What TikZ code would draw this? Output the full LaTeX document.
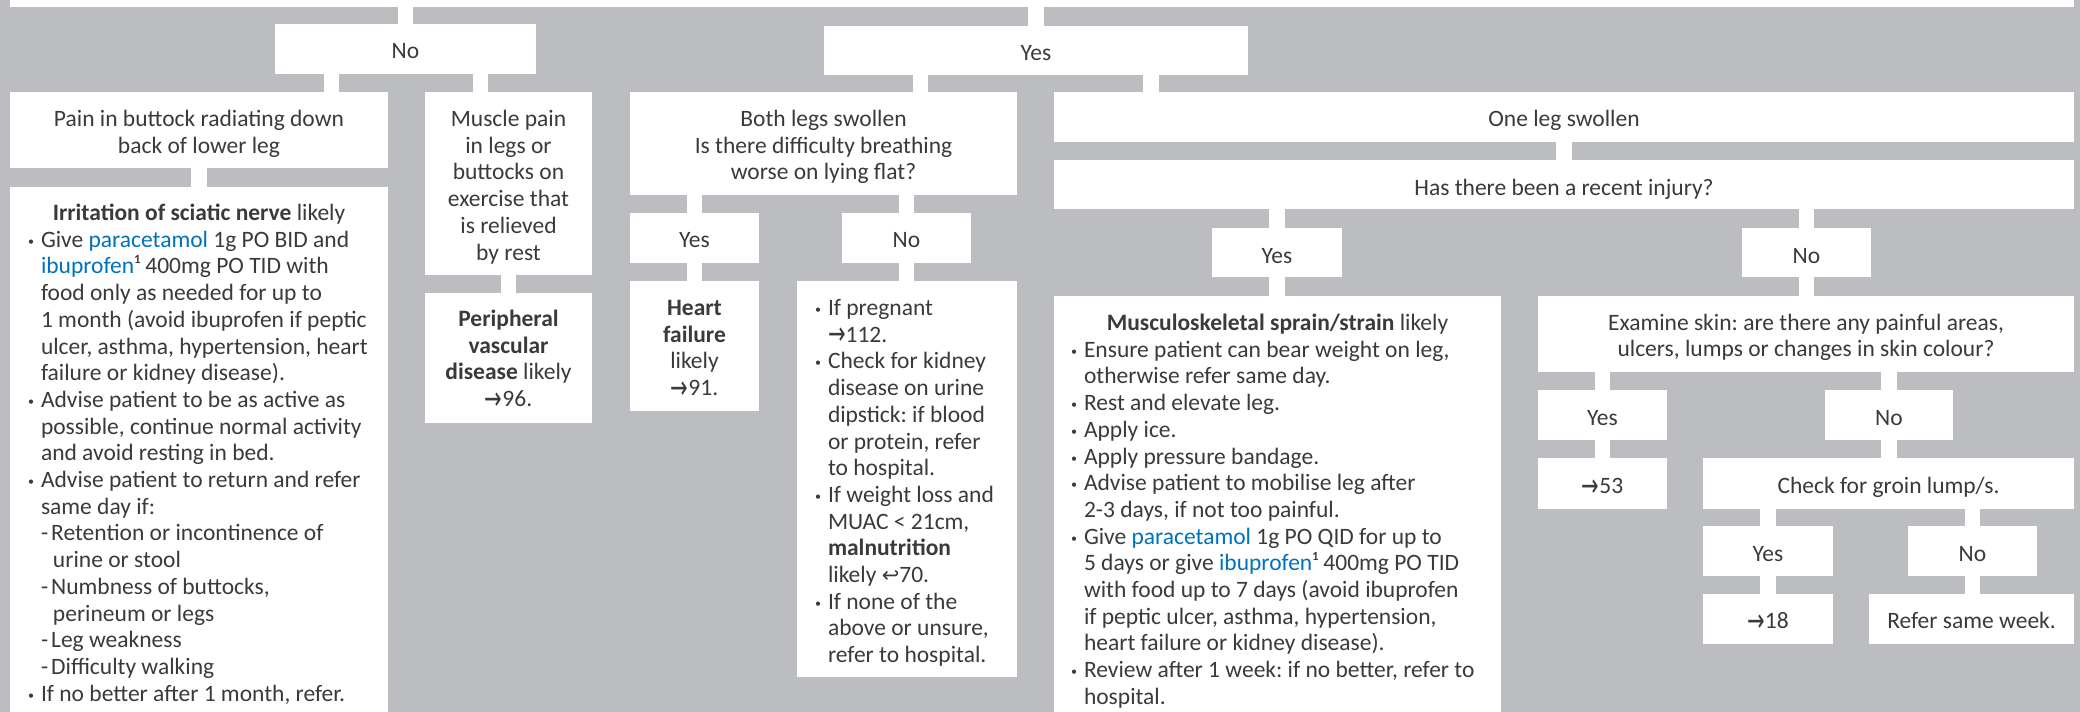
\documentclass[tikz,border=0pt]{standalone}
\usepackage{fontspec}
\usepackage{graphicx}
\setmainfont{Carlito}
\newfontfamily\symfont{DejaVu Sans}
\usetikzlibrary{calc}
\frenchspacing
\definecolor{bg}{RGB}{188,189,193}
\definecolor{txt}{RGB}{58,58,58}
\definecolor{drugc}{RGB}{0,114,188}
\newcommand\drug[1]{\textcolor{drugc}{#1}}
\newcommand\ar{{\symfont\fontsize{21}{21}\selectfont\raisebox{-2.5pt}{\scalebox{1}[1.5]{→}}}}
\newcommand\hook{{\symfont\fontsize{21}{21}\selectfont ↩}}
\newcommand\Bu{\leavevmode\llap{\raisebox{2pt}{\fontsize{12}{12}\selectfont •}\hspace{7pt}}}
\newcommand\Sb{\hspace*{12pt}}
\newcommand\Hd[3]{\hspace*{-#2pt}\makebox[#1pt][c]{#3}}
\newcommand\CC{\centering\leftskip=-80pt plus 1fil\rightskip=-80pt plus 1fil\parindent=0pt\parfillskip=0pt\parskip=0pt}
\newcommand\LL[1]{\raggedright\leftskip=#1pt\rightskip=-80pt plus 1fil\parindent=0pt\parskip=0pt}
% name, x1, y1, x2, y2, first-baseline offset, format, content
\newcommand\Bx[8]{\node[box] (#1) at (#2,#3) {\parbox[t][\dimexpr #5pt-#3pt\relax][t]{\dimexpr #4pt-#2pt\relax}{#7\rule{0pt}{#6pt}#8}};}
\newcommand\conn[2]{\draw[conn] let \p1=(#1.south west),\p2=(#1.south east),\p3=(#2.north west),\p4=(#2.north east),\n1={(max(\x1,\x3)+min(\x2,\x4))/2} in (\n1,\y1) -- (\n1,\y3);}
\tikzset{
  box/.style={fill=white, inner sep=0pt, outer sep=0pt, anchor=north west, text=txt, font=\fontsize{23.5}{26.7}\selectfont\frenchspacing},
  conn/.style={draw=white, line width=15.5pt, line cap=butt}
}
\begin{document}
\begin{tikzpicture}[x=1pt,y=-1pt]
\useasboundingbox (0,0) rectangle (2080,712);
\fill[bg] (0,0) rectangle (2080,712);
\clip (0,0) rectangle (2080,712);
\Bx{top}{10}{-20}{2074}{7}{10}{\CC}{}
\Bx{no1}{275}{24}{536}{74}{34.5}{\CC}{No}
\Bx{yes1}{824}{26}{1248}{75}{34}{\CC}{Yes}
\Bx{pain}{10}{92}{388}{168}{34.5}{\CC}{Pain in buttock radiating down\\back of lower leg}
\Bx{sciatic}{10}{187}{388}{720}{33.5}{\LL{31}}{\Hd{378}{31}{\textbf{Irritation of sciatic nerve} likely}\\
\Bu Give \drug{paracetamol} 1g PO BID and\\
\drug{ibuprofen}¹ 400mg PO TID with\\
food only as needed for up to\\
1 month (avoid ibuprofen if peptic\\
ulcer, asthma, hypertension, heart\\
failure or kidney disease).\\
\Bu Advise patient to be as active as\\
possible, continue normal activity\\
and avoid resting in bed.\\
\Bu Advise patient to return and refer\\
same day if:\\
-\hspace{3pt}Retention or incontinence of\\
\Sb urine or stool\\
-\hspace{3pt}Numbness of buttocks,\\
\Sb perineum or legs\\
-\hspace{3pt}Leg weakness\\
-\hspace{3pt}Difficulty walking\\
\Bu If no better after 1 month, refer.}
\Bx{muscle}{425}{92}{592}{275}{34.5}{\CC}{Muscle pain\\in legs or\\buttocks on\\exercise that\\is relieved\\by rest}
\Bx{pvd}{425}{293}{592}{423}{33.5}{\CC}{\textbf{Peripheral}\\\textbf{vascular}\\\textbf{disease} likely\\\ar96.}
\Bx{both}{630}{92}{1017}{195}{34.5}{\CC}{Both legs swollen\\Is there difficulty breathing\\worse on lying flat?}
\Bx{byes}{630}{213}{759}{263}{34}{\CC}{Yes}
\Bx{bno}{842}{213}{971}{263}{34}{\CC}{No}
\Bx{heart}{630}{281}{759}{411}{34.5}{\CC}{\textbf{Heart}\\\textbf{failure}\\likely\\\ar91.}
\Bx{nocont}{797}{281}{1017}{677}{34.5}{\LL{31}}{\Bu If pregnant\\
\ar112.\\
\Bu Check for kidney\\
disease on urine\\
dipstick: if blood\\
or protein, refer\\
to hospital.\\
\Bu If weight loss and\\
MUAC < 21cm,\\
\textbf{malnutrition}\\
likely \hook70.\\
\Bu If none of the\\
above or unsure,\\
refer to hospital.}
\Bx{one}{1054}{92}{2074}{142}{34.5}{\CC}{One leg swollen}
\Bx{injury}{1054}{160}{2074}{209}{35}{\CC}{Has there been a recent injury?}
\Bx{iyes}{1212}{228}{1342}{277}{35.5}{\CC}{Yes}
\Bx{ino}{1742}{228}{1871}{277}{35.5}{\CC}{No}
\Bx{msk}{1054}{296}{1501}{720}{34.5}{\LL{30}}{\Hd{447}{30}{\textbf{Musculoskeletal sprain/strain} likely}\\
\Bu Ensure patient can bear weight on leg,\\
otherwise refer same day.\\
\Bu Rest and elevate leg.\\
\Bu Apply ice.\\
\Bu Apply pressure bandage.\\
\Bu Advise patient to mobilise leg after\\
2-3 days, if not too painful.\\
\Bu Give \drug{paracetamol} 1g PO QID for up to\\
5 days or give \drug{ibuprofen}¹ 400mg PO TID\\
with food up to 7 days (avoid ibuprofen\\
if peptic ulcer, asthma, hypertension,\\
heart failure or kidney disease).\\
\Bu Review after 1 week: if no better, refer to\\
hospital.}
\Bx{exam}{1538}{296}{2074}{372}{34}{\CC}{Examine skin: are there any painful areas,\\ulcers, lumps or changes in skin colour?}
\Bx{eyes}{1538}{390}{1667}{440}{35}{\CC}{Yes}
\Bx{eno}{1825}{390}{1953}{440}{35}{\CC}{No}
\Bx{r53}{1538}{458}{1667}{509}{35.5}{\CC}{\ar53}
\Bx{groin}{1703}{458}{2074}{509}{35.5}{\CC}{Check for groin lump/s.}
\Bx{gyes}{1703}{526}{1833}{576}{35}{\CC}{Yes}
\Bx{gno}{1908}{526}{2037}{576}{35}{\CC}{No}
\Bx{r18}{1703}{594}{1833}{644}{34.5}{\CC}{\ar18}
\Bx{rsw}{1869}{594}{2074}{644}{34.5}{\CC}{Refer same week.}
\conn{top}{no1}
\conn{top}{yes1}
\conn{no1}{pain}
\conn{no1}{muscle}
\conn{pain}{sciatic}
\conn{muscle}{pvd}
\conn{yes1}{both}
\conn{yes1}{one}
\conn{both}{byes}
\conn{both}{bno}
\conn{byes}{heart}
\conn{bno}{nocont}
\conn{one}{injury}
\conn{injury}{iyes}
\conn{injury}{ino}
\conn{iyes}{msk}
\conn{ino}{exam}
\conn{exam}{eyes}
\conn{exam}{eno}
\conn{eyes}{r53}
\conn{eno}{groin}
\conn{groin}{gyes}
\conn{groin}{gno}
\conn{gyes}{r18}
\conn{gno}{rsw}
\end{tikzpicture}
\end{document}
